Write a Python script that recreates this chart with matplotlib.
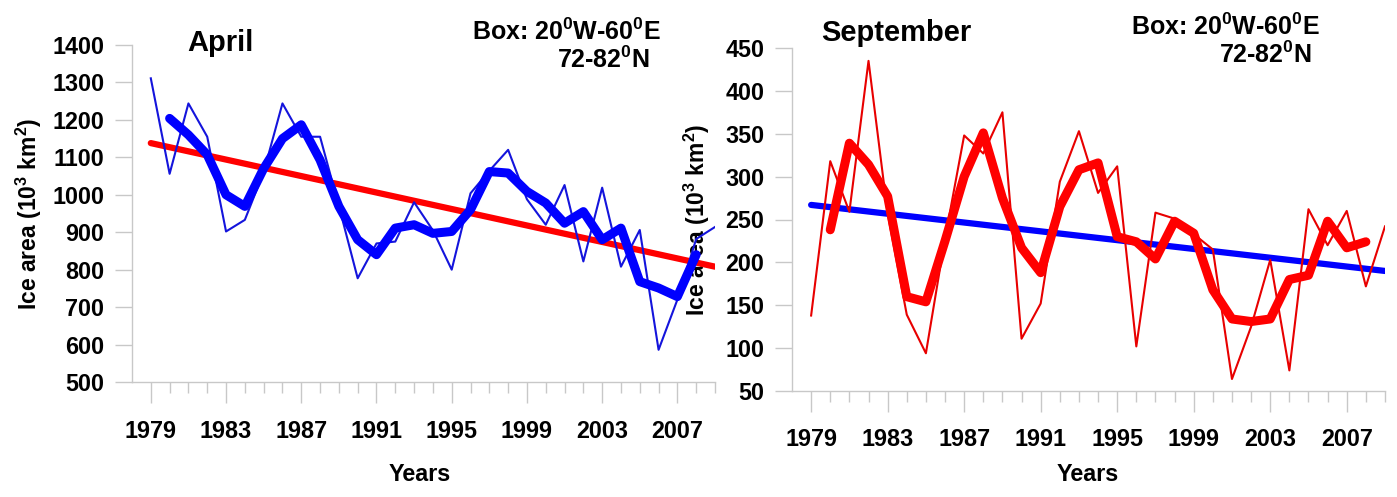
import numpy as np
import matplotlib
matplotlib.use("Agg")
import matplotlib.pyplot as plt

plt.rcParams['font.family'] = ['Liberation Sans', 'DejaVu Sans']
plt.rcParams['font.weight'] = 'bold'
plt.rcParams['mathtext.fontset'] = 'custom'
plt.rcParams['mathtext.rm'] = 'Liberation Sans:bold'
plt.rcParams['mathtext.bf'] = 'Liberation Sans:bold'

# --- data ---
years = list(range(1979, 2010))
smooth_years = list(range(1980, 2009))
tick_years = [1979, 1983, 1987, 1991, 1995, 1999, 2003, 2007]

april_ice = [1311, 1056, 1244, 1155, 902, 933, 1060, 1244, 1155, 1155,
             970, 777, 870, 875, 980, 905, 800, 1004, 1064, 1120,
             988, 920, 1026, 822, 1019, 808, 906, 586, 720, 882, 914]
april_smooth = [1204, 1160, 1107, 1000, 969, 1070, 1150, 1187, 1093, 969,
                880, 840, 911, 920, 897, 902, 960, 1062, 1058, 1009,
                978, 924, 955, 880, 911, 768, 751, 728, 840]
april_trend = [1138, 808]  # 1979 -> 2009

sept_ice = [138, 318, 259, 435, 257, 139, 94, 228, 348, 327,
            375, 111, 152, 294, 353, 281, 312, 102, 258, 251,
            233, 215, 64, 125, 203, 74, 262, 220, 260, 172, 242]
sept_smooth = [238, 339, 314, 277, 160, 154, 225, 300, 351, 275,
               217, 188, 265, 308, 316, 230, 224, 204, 248, 234,
               168, 134, 131, 134, 180, 185, 248, 217, 224]
sept_trend = [267, 190]

W, H = 1397, 497
fig = plt.figure(figsize=(W / 100, H / 100), dpi=100)

def px_axes(x0, x1, ytop, ybot):
    return [x0 / W, 1 - ybot / H, (x1 - x0) / W, (ybot - ytop) / H]

ax1 = fig.add_axes(px_axes(132, 715, 45, 382), zorder=2)
ax2 = fig.add_axes(px_axes(792, 1385, 48, 391), zorder=1)
ax1.patch.set_alpha(0)

grey = '#c8c8c8'
ylab = 'Ice area (10$^{3}$ km$^{2}$)'
fs = 16.8

def style(ax, ylim, yticks):
    ax.set_xlim(1978, 2009)
    ax.set_ylim(*ylim)
    for s in ['top', 'right']:
        ax.spines[s].set_visible(False)
    for s in ['left', 'bottom']:
        ax.spines[s].set_color(grey)
        ax.spines[s].set_linewidth(1)
    ax.set_xticks(tick_years)
    ax.set_xticks(years, minor=True)
    ax.set_yticks(yticks)
    ax.tick_params(axis='x', which='major', length=15, width=1, color=grey,
                   pad=12, labelsize=fs)
    ax.tick_params(axis='x', which='minor', length=8, width=1, color=grey)
    ax.tick_params(axis='y', length=12, width=1, color=grey, pad=8,
                   labelsize=fs)
    ax.set_xlabel('Years', fontsize=fs, fontweight='bold')

# April panel
ax1.plot([years[0], years[-1]], april_trend, color='#ff0000', lw=4.5,
         solid_capstyle='round', zorder=2)
ax1.plot(years, april_ice, color='#1414dc', lw=1.5, zorder=3)
ax1.plot(smooth_years, april_smooth, color='#0000ff', lw=6.5,
         solid_capstyle='round', solid_joinstyle='round', zorder=4)
style(ax1, (500, 1400), range(500, 1401, 100))
ax1.set_ylabel(ylab, fontsize=16.5, fontweight='bold')
ax1.yaxis.set_label_coords(-0.151, 0.5)
ax1.xaxis.set_label_coords(0.494, -0.24)

# September panel
ax2.plot([years[0], years[-1]], sept_trend, color='#0000ff', lw=4.5,
         solid_capstyle='round', zorder=2)
ax2.plot(years, sept_ice, color='#e80000', lw=1.5, zorder=3)
ax2.plot(smooth_years, sept_smooth, color='#ff0000', lw=6.5,
         solid_capstyle='round', solid_joinstyle='round', zorder=4)
style(ax2, (50, 450), range(50, 451, 50))
ax2.set_ylabel(ylab, fontsize=16.5, fontweight='bold')
ax2.yaxis.set_label_coords(-0.135, 0.5)
ax2.xaxis.set_label_coords(0.498, -0.21)

# panel annotations
def ftext(x, y, s, size, ha='left'):
    fig.text(x / W, 1 - y / H, s, fontsize=size, fontweight='bold',
             ha=ha, va='center')

ftext(187, 43, 'April', 21)
ftext(472, 32, 'Box: 20$^0$W-60$^0$E', 18)
ftext(557, 60, '72-82$^0$N', 18)
ftext(821, 33, 'September', 21)
ftext(1131, 27, 'Box: 20$^0$W-60$^0$E', 18)
ftext(1219, 55, '72-82$^0$N', 18)

fig.savefig('out.png', dpi=100)
